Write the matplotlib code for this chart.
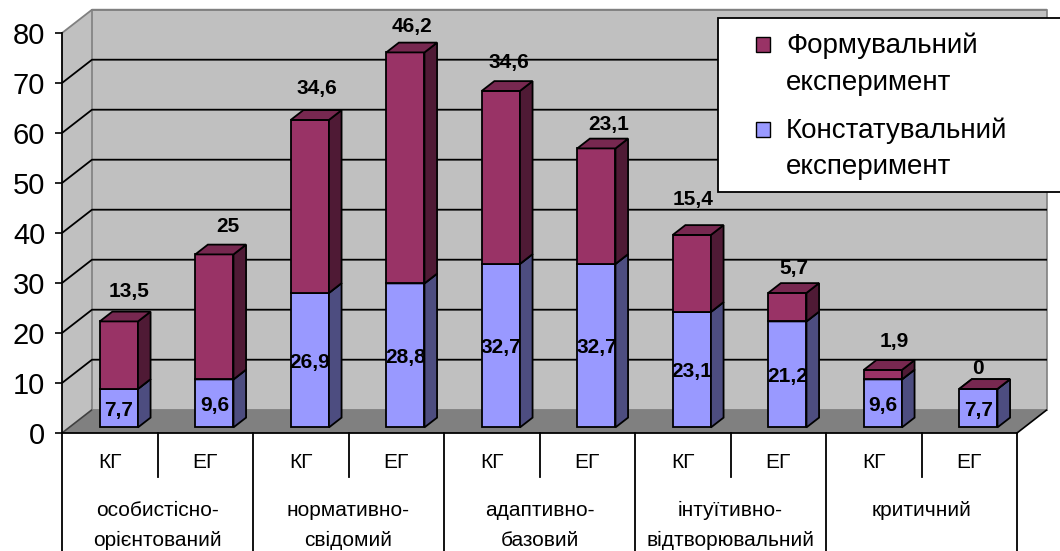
import matplotlib
matplotlib.use("Agg")
import matplotlib.pyplot as plt
from matplotlib.patches import Polygon, Rectangle

plt.rcParams['font.family'] = ['Liberation Sans', 'DejaVu Sans']

# ---- data -------------------------------------------------------------
groups = ["особистісно-\nорієнтований", "нормативно-\nсвідомий",
          "адаптивно-\nбазовий", "інтуїтивно-\nвідтворювальний", "критичний"]
subgroups = ["КГ", "ЕГ"]
konst = [7.7, 9.6, 26.9, 28.8, 32.7, 32.7, 23.1, 21.2, 9.6, 7.7]
form = [13.5, 25, 34.6, 46.2, 34.6, 23.1, 15.4, 5.7, 1.9, 0]
series_names = ["Формувальний\nексперимент", "Констатувальний\nексперимент"]
yticks = [0, 10, 20, 30, 40, 50, 60, 70, 80]

# ---- styling ----------------------------------------------------------
plum = dict(front="#993366", side="#4F1A35", top="#772850")
blue = dict(front="#9999FF", side="#4D4D80", top="#7373BF")
wall_c, floor_c = "#C0C0C0", "#808080"
# placement of the value labels above each stack (pixels: right, up)
label_shift = [10, 14, 7, 7, 8, 12, 1, 7, 11, 0]
label_lift = [32, 30, 33, 28, 30, 26, 37, 26, 30, 22]

W, H = 1060, 551
L, R, T, B = 62, 1017, 33, 433          # front plane of the plot box
n = len(konst)
ymax = yticks[-1]
PX = (R - L) / n
PY = (B - T) / ymax


def dx(p):
    return p / PX


def dy(p):
    return p / PY


DEPTH = (dx(30), dy(23.3))
D0, D1 = 0.24, 0.66                      # bar depth range
BAR_LEFT, BAR_W = 0.32, 0.40


def proj(x, y, d):
    return (x + d * DEPTH[0], y + d * DEPTH[1])


def fmt(v):
    return f"{v:g}".replace(".", ",")


fig = plt.figure(figsize=(W / 100, H / 100), dpi=100)
ax = fig.add_axes([L / W, 1 - B / H, (R - L) / W, (B - T) / H])
ax.set_xlim(0, n)
ax.set_ylim(0, ymax)
ax.patch.set_visible(False)


def poly(pts, **kw):
    p = Polygon(pts, closed=True, clip_on=False, **kw)
    ax.add_patch(p)
    return p


def line(pts, **kw):
    xs, ys = zip(*pts)
    ax.plot(xs, ys, clip_on=False, solid_capstyle="butt", **kw)


# walls and floor
poly([proj(0, 0, 0), proj(0, 0, 1), proj(0, ymax, 1), proj(0, ymax, 0)],
     facecolor=wall_c, edgecolor="none", zorder=0)
poly([proj(0, 0, 1), proj(n, 0, 1), proj(n, ymax, 1), proj(0, ymax, 1)],
     facecolor=wall_c, edgecolor=floor_c, lw=1.2, zorder=0)
poly([proj(0, 0, 0), proj(0, 0, 1), proj(n, 0, 1), proj(n, 0, 0)],
     facecolor=floor_c, edgecolor="none", zorder=0.5)
line([proj(n, 0, 0), proj(n, 0, 1)], color="black", lw=1.2, zorder=1)

# gridlines on side and back walls
for v in yticks:
    if v == 0:
        line([proj(0, 0, 0), proj(0, 0, 1)], color="#404040", lw=1.2, zorder=1)
        continue
    c = floor_c if v == ymax else "black"
    line([proj(0, v, 0), proj(0, v, 1), proj(n, v, 1)], color=c, lw=1.3, zorder=1)

# stacked 3-D bars
x0s = [i + BAR_LEFT for i in range(n)]
for vals, bots, col, z in [(konst, [0] * n, blue, 3), (form, konst, plum, 4)]:
    ax.bar([x + D0 * DEPTH[0] for x in x0s], vals, width=BAR_W,
           bottom=[b + D0 * DEPTH[1] for b in bots], align="edge",
           color=col["front"], edgecolor="black", linewidth=1.3, zorder=z,
           clip_on=False)
    for x0, v, b in zip(x0s, vals, bots):
        xr = x0 + BAR_W
        t = b + v
        poly([proj(xr, b, D0), proj(xr, b, D1), proj(xr, t, D1), proj(xr, t, D0)],
             facecolor=col["side"], edgecolor="black", lw=1.3, zorder=z)
        poly([proj(x0, t, D0), proj(xr, t, D0), proj(xr, t, D1), proj(x0, t, D1)],
             facecolor=col["top"], edgecolor="black", lw=1.3, zorder=z)

# value labels
lab = dict(ha="center", va="baseline", fontsize=15, fontweight="bold", zorder=10)
for i in range(n):
    fx = x0s[i] + D0 * DEPTH[0] + BAR_W / 2
    base = D0 * DEPTH[1]
    ax.text(fx, base + konst[i] / 2 - dy(7.5), fmt(konst[i]), **lab)
    top = base + konst[i] + form[i]
    ax.text(fx + dx(label_shift[i]), top + dy(label_lift[i]) - dy(7.5),
            fmt(form[i]), **lab)

# axes styling
for s in ["top", "right"]:
    ax.spines[s].set_visible(False)
ax.spines["left"].set_linewidth(1.3)
ax.spines["bottom"].set_linewidth(1.3)
ax.spines["left"].set_zorder(2)
ax.spines["bottom"].set_zorder(2)
ax.set_xticks([])
ax.set_yticks(yticks)
ax.tick_params(axis="y", length=5, width=1.2, pad=7, labelsize=21, direction="out")

# category table below the floor
for k in range(n + 1):
    depth = -25 if k % 2 == 0 else -dy(477 - B)
    ax.plot([k, k], [0, depth], color="black", lw=1.3, clip_on=False)
for i in range(n):
    ax.text(i + 0.5, -dy(468 - B), subgroups[i % 2], ha="center", va="baseline",
            fontsize=15)
for g, name in enumerate(groups):
    for j, ln in enumerate(name.split("\n")):
        ax.text(2 * g + 1, -dy([516, 546][j] - B), ln, ha="center", va="baseline",
                fontsize=15)

# legend box
fig.add_artist(Rectangle((718 / W, 1 - 192 / H), (1065 - 718) / W, (192 - 18) / H,
                         transform=fig.transFigure, facecolor="white",
                         edgecolor="black", lw=1.3, zorder=5))
for (name, col, my, baselines) in [(series_names[0], plum, 37, (53, 90)),
                                   (series_names[1], blue, 122, (138, 174))]:
    fig.add_artist(Rectangle((756 / W, 1 - (my + 15) / H), 14 / W, 15 / H,
                             transform=fig.transFigure, facecolor=col["front"],
                             edgecolor="black", lw=1.0, zorder=6))
    for ln, by in zip(name.split("\n"), baselines):
        fig.text(786 / W, 1 - by / H, ln, fontsize=20, va="baseline", ha="left",
                 zorder=7)

fig.savefig("out.png", dpi=100)
